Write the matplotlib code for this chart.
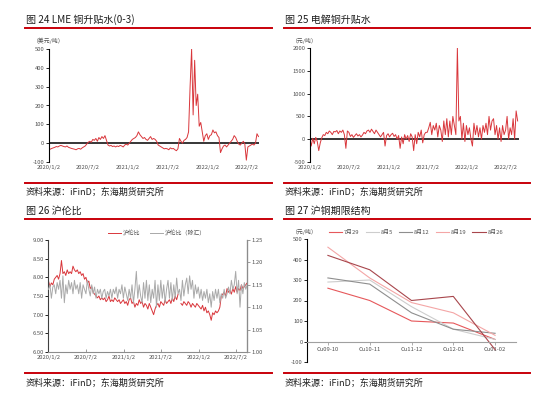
import matplotlib
matplotlib.use('Agg')
import matplotlib.pyplot as plt
from matplotlib.lines import Line2D
import pandas as pd

plt.rcParams['font.family'] = ['Noto Sans CJK SC', 'DejaVu Sans']
plt.rcParams['axes.unicode_minus'] = False

# ---------------- data ----------------
# weekly observations (Fridays) from 2020-01-03 to 2022-08-26
start_date = '2020-01-03'

lme_spread = [
    # 2020
    -30, -32, -28, -25, -22,  -18, -20, -15, -12,  -15, -18, -20, -15,  -22, -25, -28, -30,
    -32, -35, -30, -28, -32,  -25, -20, -15, -5,  5, 10, 5, 20, 15,  25, 10, 30, 20,
    35, 25, 40, 15,  -10, -15, -12, -18, -15,  -20, -15, -18, -12,  -15, -20, -10, -5,
    # 2021
    -10, 0, 10, 20, 25,  30, 40, 60, 45,  35, 25, 30, 20,  15, 25, 35, 20, 25,
    20, 10, -10, -15,  -20, -25, -30, -28,  -30, -35, -25, -30, -28,  -35, -40, -30, 25,
    10, 0, 15, 20,  30, 60, 300, 500, 150,  440, 200, 260, 90,  110, 60, 10, 40, 50,
    # 2022
    20, 40, 45, 70,  55, 60, 40, 30,  -50, -30, -15, -10,  -20, -10, 0, 10, 20,
    40, 30, 10, -5,  -10, 0, 10, -5,  -90, -20, -15, -10, -5,  -10, 0, 50, 35,
]

shfe_spot_premium = [
    # 2020
    30, -150, 20, -100, 40,  -50, -250, -80, 30,  100, 80, 150, 120,  180, 150, 100, 170,
    160, 190, 120, 180, 150,  200, 100, -200, 180,  150, 60, 100, 40, 80,  120, 70, 100, 50,
    90, 150, 120, 180,  200, 150, 220, 170, 120,  200, 150, 100, 50,  100, 150, -150, 80,
    # 2021
    120, 50, 100, 130, 60,  100, 0, 80, -200,  50, -100, 100, 0,  80, -50, 120, 50, -250,
    100, -100, 150, 50,  200, -80, 100, 150,  150, 250, 370, 100, 300,  200, 350, 50, 300,
    200, -50, 400, 100,  450, 50, 400, 100, 500,  300, 100, 2000, 400,  500, 0, 350, -50, 300,
    # 2022
    100, 250, 0, -150,  350, 100, 300, 50,  250, 0, 300, 150,  350, 100, 500, 200, 400,
    450, 100, 300, 0,  250, -50, 300, 100,  200, 500, 0, 250, 100,  450, 0, 620, 400,
]

shfe_lme_ratio = [
    # 2020
    7.9, 7.75, 7.85, 7.8, 7.95,  8.0, 8.05, 7.95, 8.1,  8.45, 8.1, 8.15, 8.05,  8.2, 8.1, 8.15, 8.1,
    8.3, 8.2, 8.15, 8.2, 8.1,  8.15, 8.05, 8.1, 7.95,  8.0, 7.85, 7.9, 7.7, 7.75,  7.6, 7.55, 7.5, 7.45,
    7.5, 7.4, 7.45, 7.4,  7.45, 7.35, 7.4, 7.5, 7.35,  7.4, 7.35, 7.45, 7.4,  7.35, 7.4, 7.3, 7.35,
    # 2021
    7.4, 7.3, 7.35, 7.25, 7.4,  7.45, 7.3, 7.35, 7.2,  7.3, 7.25, 7.4, 7.3,  7.35, 7.2, 7.3, 7.25, 7.15,
    7.3, 7.2, 7.1, 7.0,  7.15, 7.25, 7.3, 7.2,  7.35, 7.3, 7.25, 7.4, 7.3,  7.35, 7.4, 7.3, 7.45,
    7.35, 7.5, 7.4, 7.55,  float('nan'), 7.3, 7.25, 7.35, 7.3,  7.25, 7.35, 7.3, 7.2,  7.3, 7.25, 7.2, 7.3, 7.25,
    # 2022
    7.2, 7.15, 7.25, 7.1,  7.2, 7.05, 7.1, 7.0,  6.85, 7.05, 7.0, 7.1,  7.05, 7.1, 7.2, 7.5, 7.55,
    7.6, 7.5, 7.7, 7.6,  7.65, 7.55, 7.7, 7.6,  7.75, 7.6, 7.7, 7.65, 7.8,  7.7, 7.75, 7.8, 7.85,
]

shfe_lme_ratio_exfx = [
    # 2020
    1.14, 1.15, 1.12, 1.145, 1.15,  1.13, 1.155, 1.14, 1.16,  1.12, 1.17, 1.11, 1.15,  1.13, 1.16, 1.14, 1.155,
    1.13, 1.16, 1.14, 1.15, 1.13,  1.155, 1.12, 1.15, 1.14,  1.13, 1.16, 1.14, 1.125, 1.15,  1.13, 1.145, 1.12, 1.14,
    1.13, 1.14, 1.12, 1.135,  1.14, 1.12, 1.135, 1.125, 1.14,  1.12, 1.14, 1.13, 1.145,  1.12, 1.14, 1.13, 1.15,
    # 2021
    1.12, 1.145, 1.13, 1.115, 1.14,  1.12, 1.15, 1.11, 1.14,  1.18, 1.12, 1.15, 1.125,  1.11, 1.155, 1.12, 1.16, 1.115,
    1.15, 1.11, 1.14, 1.12,  1.16, 1.10, 1.15, 1.115,  1.16, 1.12, 1.15, 1.11, 1.14,  1.16, 1.12, 1.155, 1.115,
    1.15, 1.12, 1.165, 1.13,  1.14, 1.115, 1.16, 1.125, 1.15,  1.165, 1.13, 1.17, 1.14,  1.16, 1.12, 1.15, 1.13, 1.145,
    # 2022
    1.12, 1.14, 1.115, 1.135,  1.12, 1.14, 1.11, 1.13,  1.10, 1.135, 1.115, 1.14,  1.12, 1.14, 1.11, 1.13, 1.12,
    1.14, 1.12, 1.13, 1.145,  1.13, 1.16, 1.14, 1.15,  1.18, 1.13, 1.16, 1.10, 1.15,  1.13, 1.155, 1.14, 1.15,
]

date_ticks = ['2020-01-02', '2020-07-02', '2021-01-02', '2021-07-02', '2022-01-02', '2022-07-02']
date_tick_labels = ['2020/1/2', '2020/7/2', '2021/1/2', '2021/7/2', '2022/1/2', '2022/7/2']

contracts = ['Cu09-10', 'Cu10-11', 'Cu11-12', 'Cu12-01', 'Cu01-02']
curve_dates = ['7月29', '8月5', '8月12', '8月19', '8月26']
curve_0729 = [260, 200, 100, 90, 10]
curve_0805 = [290, 300, 170, 60, 10]
curve_0812 = [310, 280, 140, 60, 40]
curve_0819 = [460, 310, 190, 140, 30]
curve_0826 = [420, 350, 200, 220, -40]
curves = [curve_0729, curve_0805, curve_0812, curve_0819, curve_0826]
curve_colors = ['#E6585B', '#CDCDCD', '#8E8E8E', '#F4A6A6', '#A8464C']

# ---------------- layout helpers ----------------
W, H = 550, 399
fig = plt.figure(figsize=(W / 100, H / 100), dpi=100)
fig.patch.set_facecolor('white')

def ax_at(l, t, r, b):
    return fig.add_axes([l / W, 1 - b / H, (r - l) / W, (b - t) / H])

def ftext(x, y, s, **kw):
    fig.text(x / W, 1 - y / H, s, **kw)

def fline(x0, x1, y, color='#C8000A', lw=1.4):
    fig.add_artist(Line2D([x0 / W, x1 / W], [1 - y / H, 1 - y / H],
                          transform=fig.transFigure, color=color, lw=lw))

TXT = '#1F1F1F'
TICK = '#505050'
RED = '#D9363B'
TS = 4.2

# headers / footers
for x0, x1, x_t in [(25, 272, 26), (284, 530, 285)]:
    fline(x0, x1, 28)
    fline(x0, x1, 183)
    fline(x0, x1, 219)
    fline(x0, x1, 373)
    ftext(x_t, 192, '资料来源：iFinD；东海期货研究所', fontsize=6.5, color=TXT, va='center')
    ftext(x_t, 383, '资料来源：iFinD；东海期货研究所', fontsize=6.5, color=TXT, va='center')

ftext(26, 20, '图 24 LME 铜升贴水(0-3)', fontsize=7.2, color=TXT, va='center')
ftext(285, 20, '图 25 电解铜升贴水', fontsize=7.2, color=TXT, va='center')
ftext(26, 211, '图 26 沪伦比', fontsize=7.2, color=TXT, va='center')
ftext(285, 211, '图 27 沪铜期限结构', fontsize=7.2, color=TXT, va='center')

def style_ts(ax, xmin, xmax):
    ax.set_xlim(pd.Timestamp(xmin), pd.Timestamp(xmax))
    ax.set_xticks(pd.to_datetime(date_ticks))
    ax.set_xticklabels(date_tick_labels)
    for s in ['top', 'right', 'bottom']:
        ax.spines[s].set_visible(False)
    ax.spines['left'].set_color('black')
    ax.spines['left'].set_linewidth(0.8)
    ax.tick_params(axis='y', direction='out', length=2, width=0.6, labelsize=TS,
                   labelcolor=TICK, pad=1)
    ax.tick_params(axis='x', length=0, labelsize=TS, labelcolor=TICK, pad=2)
    ax.axhline(0, color='black', lw=1.1, zorder=1)
    ax.set_facecolor('none')

# ---------------- panel 24 ----------------
dates1 = pd.date_range(start_date, periods=len(lme_spread), freq='W-FRI')
ax1 = ax_at(48.5, 49, 258.5, 162)
ax1.plot(dates1, lme_spread, color=RED, lw=0.7, zorder=2)
ax1.set_ylim(-100, 500)
ax1.set_yticks(range(-100, 501, 100))
style_ts(ax1, '2020-01-02', '2022-08-26')
ftext(33, 41, '（美元/吨）', fontsize=TS, color=TICK, va='center')

# ---------------- panel 25 ----------------
dates2 = pd.date_range(start_date, periods=len(shfe_spot_premium), freq='W-FRI')
ax2 = ax_at(309.5, 48, 518.5, 162)
ax2.plot(dates2, shfe_spot_premium, color=RED, lw=0.7, zorder=2)
ax2.set_ylim(-500, 2000)
ax2.set_yticks(range(-500, 2001, 500))
style_ts(ax2, '2020-01-02', '2022-08-30')
ftext(292, 41, '（元/吨）', fontsize=TS, color=TICK, va='center')

# ---------------- panel 26 ----------------
dates3 = pd.date_range(start_date, periods=len(shfe_lme_ratio), freq='W-FRI')
ax3 = ax_at(48.3, 240, 247, 352)
l1, = ax3.plot(dates3, shfe_lme_ratio, color=RED, lw=0.7, label='沪伦比')
ax3.set_ylim(6.0, 9.0)
ax3.set_yticks([6.0, 6.5, 7.0, 7.5, 8.0, 8.5, 9.0])
ax3.set_yticklabels(['6.00', '6.50', '7.00', '7.50', '8.00', '8.50', '9.00'])
ax3.set_xlim(pd.Timestamp('2020-01-02'), pd.Timestamp('2022-08-25'))
ax3.set_xticks(pd.to_datetime(date_ticks))
ax3.set_xticklabels(date_tick_labels)
ax3b = ax3.twinx()
l2, = ax3b.plot(dates3, shfe_lme_ratio_exfx, color='#A9A9A9', lw=0.7, label='沪伦比（除汇）')
ax3b.set_ylim(1.0, 1.25)
ax3b.set_yticks([1.00, 1.05, 1.10, 1.15, 1.20, 1.25])
ax3b.set_yticklabels(['1.00', '1.05', '1.10', '1.15', '1.20', '1.25'])
for a in (ax3, ax3b):
    a.spines['top'].set_visible(False)
ax3.spines['left'].set_color('#404040')
ax3.spines['left'].set_linewidth(0.8)
ax3.spines['bottom'].set_color('#8C8C8C')
ax3.spines['bottom'].set_linewidth(0.8)
ax3b.spines['right'].set_color('#8C8C8C')
ax3b.spines['right'].set_linewidth(0.8)
ax3b.spines['left'].set_visible(False)
ax3b.spines['bottom'].set_visible(False)
ax3.tick_params(axis='y', direction='out', length=2, width=0.6, labelsize=TS, labelcolor=TICK, pad=1)
ax3b.tick_params(axis='y', direction='out', length=2, width=0.6, labelsize=TS, labelcolor=TICK, pad=1,
                 color='#8C8C8C')
ax3.tick_params(axis='x', direction='in', length=2, width=0.6, labelsize=TS, labelcolor=TICK, pad=2,
                color='#8C8C8C')
fig.legend(handles=[l1, l2], loc='center', bbox_to_anchor=(157 / W, 1 - 233 / H), ncol=2,
           frameon=False, fontsize=TS, handlelength=2.2, handletextpad=0.3, columnspacing=1.6,
           labelcolor=TICK)

# ---------------- panel 27 ----------------
ax4 = ax_at(307, 239, 516, 362)
handles = []
for vals, lab, col in zip(curves, curve_dates, curve_colors):
    h, = ax4.plot(range(len(contracts)), vals, color=col, lw=0.8, label=lab)
    handles.append(h)
ax4.set_xlim(-0.5, len(contracts) - 0.5)
ax4.set_ylim(-100, 500)
ax4.set_yticks(range(-100, 501, 100))
ax4.set_xticks(range(len(contracts)))
ax4.set_xticklabels(contracts)
ax4.spines['top'].set_visible(False)
ax4.spines['right'].set_visible(False)
ax4.spines['bottom'].set_position(('data', 0))
ax4.spines['bottom'].set_color('#A0A0A0')
ax4.spines['bottom'].set_linewidth(0.8)
ax4.spines['left'].set_color('black')
ax4.spines['left'].set_linewidth(0.8)
ax4.tick_params(axis='y', direction='out', length=2, width=0.6, labelsize=TS, labelcolor=TICK, pad=1)
ax4.tick_params(axis='x', direction='out', length=2, width=0.6, labelsize=TS, labelcolor=TICK, pad=2,
                color='#A0A0A0')
ftext(292, 232, '（元/吨）', fontsize=TS, color=TICK, va='center')
fig.legend(handles=handles, loc='center', bbox_to_anchor=(416 / W, 1 - 232 / H), ncol=5,
           frameon=False, fontsize=TS, handlelength=2.3, handletextpad=0.3, columnspacing=1.0,
           labelcolor=TICK)

fig.savefig('out.png', dpi=100, facecolor='white')
